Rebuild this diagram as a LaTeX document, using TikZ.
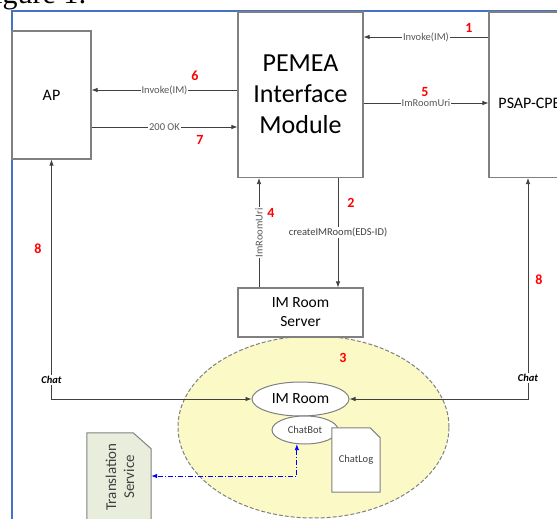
\documentclass[tikz,border=0pt]{standalone}
\usepackage{fontspec}
\setmainfont{Carlito}
\newfontfamily\seriffont{Liberation Serif}
\usetikzlibrary{arrows.meta,shapes.geometric}
\definecolor{frameblue}{HTML}{4472C4}
\definecolor{boxgray}{HTML}{808080}
\definecolor{linegray}{HTML}{404040}
\definecolor{lblgray}{HTML}{595959}
\definecolor{zoneyellow}{HTML}{FBFAC6}
\definecolor{transgreen}{HTML}{E8EDDC}
\definecolor{numred}{HTML}{FF0000}
\tikzset{
  sysbox/.style={draw=boxgray, line width=1.1pt, fill=white, rectangle, inner sep=0pt},
  arr/.style={draw=linegray, line width=0.8pt, -{Latex[length=6pt,width=4.5pt]}},
  darr/.style={draw=linegray, line width=0.8pt, {Latex[length=6pt,width=4.5pt]}-{Latex[length=6pt,width=4.5pt]}},
  blarr/.style={draw=blue, line width=0.8pt, dash pattern=on 5pt off 2pt on 1pt off 2pt, {Latex[length=6pt,width=4.5pt]}-{Latex[length=6pt,width=4.5pt]}},
  msg/.style={fill=white, inner sep=1pt, text=lblgray, font=\fontsize{10.5}{12}\selectfont},
  chatlbl/.style={fill=white, inner sep=1pt, text=black, font=\fontsize{10.5}{12}\selectfont\bfseries\itshape},
  num/.style={text=numred, font=\fontsize{14}{16}\selectfont\bfseries, inner sep=0pt},
  oval/.style={ellipse, draw=boxgray, line width=1pt, fill=white, inner sep=0pt},
}
\begin{document}
\begin{tikzpicture}[x=1pt,y=-1pt]
\useasboundingbox (0,0) rectangle (557,519);
\clip (0,0) rectangle (557,519);

% caption fragment
\node[anchor=base east, inner sep=0pt, font=\seriffont\fontsize{30}{32}\selectfont] (fig) at (87,4) {Figure 1:};

% frame
\draw[frameblue, line width=2pt] (12,530) -- (12,11) -- (570,11);

% zone ellipse
\node[ellipse, draw=gray, line width=1pt, dash pattern=on 4pt off 2pt, fill=zoneyellow,
      minimum width=271pt, minimum height=182pt, inner sep=0pt] (zone) at (313.5,427) {};

% boxes
\node[sysbox, minimum width=79pt, minimum height=128pt, font=\fontsize{16}{19}\selectfont] (AP) at (51.5,95) {AP};
\node[sysbox, minimum width=125pt, minimum height=165.5pt, align=center,
      font=\fontsize{26}{31}\selectfont] (PEMEA) at (300.5,94.75) {PEMEA\\Interface\\Module};
\node[sysbox, minimum width=83pt, minimum height=165.5pt] (PSAP) at (530.5,94.75) {};
\node[font=\fontsize{16}{19}\selectfont, inner sep=0pt] (psaptext) at (529.5,103) {PSAP-CPE};
\node[sysbox, minimum width=125pt, minimum height=49pt, align=center,
      font=\fontsize{15.5}{19}\selectfont] (IMRS) at (300.5,312.5) {IM Room\\Server};

% level coordinates
\coordinate (y1) at (0,37);
\coordinate (y5) at (0,103);
\coordinate (y6) at (0,90);
\coordinate (y7) at (0,127);
\coordinate (x2) at (338,0);
\coordinate (x4) at (259,0);
\coordinate (x8) at (528,0);
\coordinate (yb) at (0,476);

% ellipses inside zone
\node[oval, minimum width=97pt, minimum height=34pt, font=\fontsize{15.5}{18}\selectfont] (IMRoom) at (300.5,399) {IM Room};
\node[oval, minimum width=66pt, minimum height=28pt, text=linegray, font=\fontsize{10.5}{12}\selectfont] (ChatBot) at (305,430) {ChatBot};

% chat log document
\node[rectangle, minimum width=48pt, minimum height=64pt, inner sep=0pt] (chatlog) at (356,460) {};
\filldraw[draw=boxgray, fill=white, line width=1pt]
  (chatlog.south west) -- (chatlog.north west) -- ([xshift=-10pt]chatlog.north east)
  -- ([yshift=-10pt]chatlog.north east) -- (chatlog.south east) -- cycle;
\node[text=linegray, font=\fontsize{10.5}{12}\selectfont, inner sep=0pt] (chatlogtext) at (chatlog.center) {ChatLog};

% translation service
\node[rectangle, minimum width=64pt, minimum height=110pt, inner sep=0pt] (trans) at (119,488) {};
\filldraw[draw=boxgray, fill=transgreen, line width=1pt]
  (trans.south west) -- (trans.north west) -- ([xshift=-18pt]trans.north east)
  -- ([yshift=-16pt]trans.north east) -- (trans.south east) -- cycle;
\node[rotate=90, align=center, text=linegray, font=\fontsize{15}{18}\selectfont, inner sep=0pt] (transtext) at (120,477) {Translation\\Service};

% messages
\draw[arr] (PSAP.west |- y1) -- node[msg]{Invoke(IM)} (PEMEA.east |- y1);
\draw[arr] (PEMEA.east |- y5) -- node[msg]{ImRoomUri} (PSAP.west |- y5);
\draw[arr] (PEMEA.west |- y6) -- node[msg]{Invoke(IM)} (AP.east |- y6);
\draw[arr] (AP.east |- y7) -- node[msg]{200 OK} (PEMEA.west |- y7);
\draw[arr] (PEMEA.south -| x2) -- node[msg, text=linegray]{createIMRoom(EDS-ID)} (IMRS.north -| x2);
\draw[arr] (IMRS.north -| x4) -- node[msg, rotate=90]{ImRoomUri} (PEMEA.south -| x4);

% chat connectors
\draw[darr] (AP.south) |- node[chatlbl, pos=0.46]{Chat} (IMRoom.west);
\draw[darr] (PSAP.south -| x8) |- node[chatlbl, pos=0.4525]{Chat} (IMRoom.east);

% translation link
\draw[blarr] (ChatBot.-120) |- (trans.east |- yb);

% step numbers
\node[num] (n1) at (469,28) {1};
\node[num] (n2) at (351,203) {2};
\node[num] (n3) at (343,358) {3};
\node[num] (n4) at (271,213) {4};
\node[num] (n5) at (425,92) {5};
\node[num] (n6) at (195,76) {6};
\node[num] (n7) at (200,140) {7};
\node[num] (n8a) at (38,249) {8};
\node[num] (n8b) at (539,280) {8};
\end{tikzpicture}
\end{document}
